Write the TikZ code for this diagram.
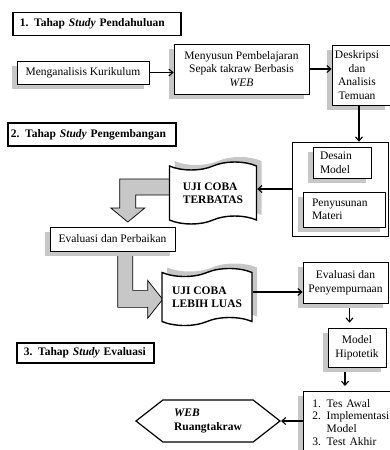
\documentclass[tikz,border=0pt]{standalone}
\usepackage{fontspec}
\setmainfont{Liberation Serif}
\usetikzlibrary{shapes.symbols,shadows,arrows.meta,calc,backgrounds}

\begin{document}
\begin{tikzpicture}[x=1pt,y=-1pt,
  font=\fontsize{11.5}{13.5}\selectfont,
  box/.style={draw,fill=white,line width=0.7pt,align=center,inner sep=2pt},
  shade/.style={drop shadow={shadow xshift=-5pt,shadow yshift=-5pt,fill=black!22,opacity=1}},
  stage/.style={draw,fill=white,line width=1.6pt,font=\fontsize{11.5}{13.5}\selectfont\bfseries,
    anchor=west,inner xsep=7pt,minimum height=23pt,align=left},
  uji/.style={tape,tape bend height=8pt,draw,fill=white,line width=1.4pt,align=left,
    font=\fontsize{11.5}{13.5}\selectfont\bfseries,
    drop shadow={shadow xshift=5pt,shadow yshift=5pt,fill=black!22,opacity=1}},
  arr/.style={-{Straight Barb[length=4pt,width=7pt]},line width=1.1pt},
  blockarrow/.style={draw,fill=black!22,line width=0.7pt}]
\useasboundingbox (0,0) rectangle (390,450);

\node[stage,text width=154pt] (tahap1) at (12,24) {1. Tahap \textit{Study} Pendahuluan};
\node[box,shade,minimum width=132pt,minimum height=23pt] (analisis) at (83,72.5) {Menganalisis Kurikulum};
\node[box,shade,minimum width=135pt,minimum height=50pt] (menyusun) at (241.5,69) {Menyusun Pembelajaran\\Sepak takraw Berbasis\\\textit{WEB}};
\node[box,shade,minimum width=58pt,minimum height=60pt,inner xsep=1pt,text width=56pt,align=left] (deskripsi) at (361,75)
  {\parbox{48pt}{\centering Deskripsi\\dan\\Analisis\\Temuan}};

\node[stage,text width=162pt,inner xsep=3pt] (tahap2) at (7,134.5) {2. Tahap \textit{Study} Pengembangan};
\node[box,minimum width=96pt,minimum height=94pt] (rancang) at (340,189) {};
\node[box,shade,text width=44pt,inner xsep=7pt,minimum height=31pt,align=left] (desain) at (342,162.5) {Desain\\Model};
\node[box,shade,text width=64pt,inner xsep=9pt,minimum height=35pt,align=left] (penyusunan) at (344,209.5) {Penyusunan\\Materi};
\node[uji,minimum width=87pt,minimum height=62pt] (terbatas) at (213,193) {UJI COBA\\TERBATAS};
\node[box,shade,minimum width=125pt,minimum height=24pt] (perbaikan) at (112.5,239) {Evaluasi dan Perbaikan};
\node[uji,minimum width=90pt,minimum height=57pt] (luas) at (207,297) {UJI COBA\\LEBIH LUAS};
\node[box,shade,minimum width=85pt,minimum height=41pt] (penyempurnaan) at (345.5,282.5) {Evaluasi dan\\Penyempurnaan};

\node[stage,text width=123pt,minimum height=20pt] (tahap3) at (16,353) {3. Tahap \textit{Study} Evaluasi};
\node[box,shade,minimum width=58pt,minimum height=39pt] (hipotetik) at (357,347.5) {Model\\Hipotetik};
\node[box,shade,anchor=north west,text width=80pt,inner xsep=9pt,inner ysep=5pt,minimum height=62pt,align=left,
  font=\fontsize{11.5}{12.6}\selectfont] (daftar) at (303,391) {1. Tes Awal\\2. Implementasi\\\phantom{2. }Model\\3. Test Akhir};
\node[signal,signal to=west and east,signal pointer angle=76,draw,fill=white,line width=1.2pt,
  minimum width=144pt,minimum height=42pt,align=left,font=\fontsize{11.5}{13.5}\selectfont\bfseries] (web) at (208,421) {\textit{WEB}\\Ruangtakraw};

\draw[arr] (analisis.east) -- (analisis.east -| menyusun.west);
\draw[arr] (menyusun.east) -- (menyusun.east -| deskripsi.west);
\draw[arr] ([xshift=-2pt]deskripsi.south) -- ([xshift=-2pt]deskripsi.south |- rancang.north);
\draw[arr] (rancang.west) -- (rancang.west -| terbatas.east);
\draw[arr] ([yshift=5pt]luas.east) -- ([yshift=5pt]luas.east -| penyempurnaan.west);
\draw[arr,shorten <=5pt,shorten >=5pt] ([xshift=4pt]penyempurnaan.south) -- ([xshift=4pt]penyempurnaan.south |- hipotetik.north);
\draw[arr,shorten <=5pt,shorten >=5pt] ([xshift=-12pt]hipotetik.south) -- ([xshift=-12pt]hipotetik.south |- daftar.north);
\draw[arr] (daftar.west |- web.east) -- (web.east);

\begin{scope}[on background layer]
\draw[blockarrow] ($(terbatas.west)+(2,-14)$) -- ++(-51,0) -- ++(0,29) -- ++(-9,0) -- ++(17,14)
  -- ++(17,-14) -- ++(-9,0) -- ++(0,-13) -- ++(35,0) -- cycle;
\draw[blockarrow] ($(perbaikan.south west)+(68,-1)$) -- ++(0,57) -- ++(30,0) -- ++(0,11) -- ++(15,-19)
  -- ++(-15,-19) -- ++(0,10) -- ++(-15,0) -- ++(0,-40) -- cycle;
\end{scope}
\end{tikzpicture}
\end{document}
